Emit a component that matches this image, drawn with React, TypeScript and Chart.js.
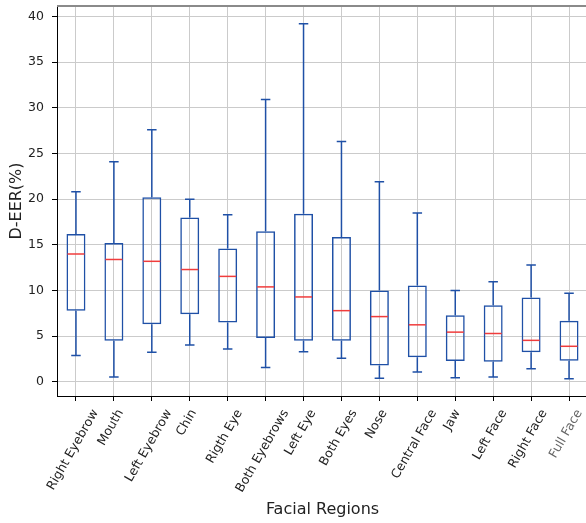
import React, { useEffect, useRef } from 'react';
import { Chart, registerables } from 'chart.js';

Chart.register(...registerables);

const categories = [
  'Right Eyebrow', 'Mouth', 'Left Eyebrow', 'Chin', 'Rigth Eye', 'Both Eyebrows', 'Left Eye',
  'Both Eyes', 'Nose', 'Central Face', 'Jaw', 'Left Face', 'Right Face', 'Full Face',
];
const whiskerLow = [2.9, 0.55, 3.25, 4.05, 3.6, 1.57, 3.3, 2.6, 0.4, 1.1, 0.47, 0.55, 1.45, 0.36];
const q1 = [7.8, 4.5, 6.3, 7.4, 6.5, 4.8, 4.5, 4.5, 1.8, 2.7, 2.3, 2.2, 3.25, 2.33];
const median = [14.0, 13.4, 13.2, 12.3, 11.55, 10.4, 9.3, 7.8, 7.15, 6.25, 5.45, 5.3, 4.55, 3.9];
const q3 = [16.2, 15.2, 20.2, 18.0, 14.6, 16.5, 18.4, 15.85, 10.0, 10.55, 7.3, 8.4, 9.25, 6.7];
const whiskerHigh = [20.8, 24.1, 27.6, 20.0, 18.3, 30.9, 39.2, 26.3, 21.9, 18.5, 10.0, 10.95, 12.8, 9.7];
const yTicks = [0, 5, 10, 15, 20, 25, 30, 35, 40];
const yMin = -1.54;
const yMax = 41.14;

const BLUE = '#1f50a6';
const RED = '#f03c3c';
const FONT = '"DejaVu Sans", sans-serif';

const boxPlugin = {
  id: 'boxParts',
  afterDatasetsDraw(chart: any) {
    const { ctx, scales } = chart;
    const xs = scales.x;
    const ys = scales.y;
    const step = xs.getPixelForValue(1) - xs.getPixelForValue(0);
    const capHalf = step * 0.25 / 2;
    const boxHalf = step * 0.5 / 2;
    ctx.save();
    ctx.lineWidth = 1.5;
    categories.forEach((_, i) => {
      const x = xs.getPixelForValue(i);
      const yLo = ys.getPixelForValue(whiskerLow[i]);
      const yQ1 = ys.getPixelForValue(q1[i]);
      const yQ3 = ys.getPixelForValue(q3[i]);
      const yHi = ys.getPixelForValue(whiskerHigh[i]);
      const yMed = ys.getPixelForValue(median[i]);
      ctx.strokeStyle = BLUE;
      ctx.beginPath();
      ctx.moveTo(x, yQ1);
      ctx.lineTo(x, yLo);
      ctx.moveTo(x, yQ3);
      ctx.lineTo(x, yHi);
      ctx.moveTo(x - capHalf, yLo);
      ctx.lineTo(x + capHalf, yLo);
      ctx.moveTo(x - capHalf, yHi);
      ctx.lineTo(x + capHalf, yHi);
      ctx.stroke();
      ctx.strokeStyle = RED;
      ctx.beginPath();
      ctx.moveTo(x - boxHalf + 1, yMed);
      ctx.lineTo(x + boxHalf - 1, yMed);
      ctx.stroke();
    });
    // top spine
    const ca = chart.chartArea;
    ctx.strokeStyle = '#8a8a8a';
    ctx.lineWidth = 2;
    ctx.beginPath();
    ctx.moveTo(ca.left, ca.top);
    ctx.lineTo(ca.right + 10, ca.top);
    ctx.stroke();
    ctx.restore();
  },
  afterDraw(chart: any) {
    const { ctx } = chart;
    const xs = chart.scales.x;
    const ang = Math.PI / 3;
    const h = 14.5;
    const top = chart.chartArea.bottom + 11;
    ctx.save();
    ctx.font = '12.5px ' + FONT;
    categories.forEach((lab, i) => {
      const L = ctx.measureText(lab).width;
      const H = L * Math.sin(ang) + h * Math.cos(ang);
      const x = xs.getPixelForValue(i) - 3;
      ctx.save();
      ctx.translate(x, top + H / 2);
      ctx.rotate(-ang);
      ctx.textAlign = 'center';
      ctx.textBaseline = 'middle';
      ctx.fillStyle = i === categories.length - 1 ? '#666666' : '#222222';
      ctx.fillText(lab, 0, 0);
      ctx.restore();
    });
    ctx.restore();
  },
};

export default function App() {
  const ref = useRef<HTMLCanvasElement | null>(null);
  useEffect(() => {
    if (!ref.current) return;
    const chart = new Chart(ref.current, {
      type: 'bar',
      data: {
        labels: categories,
        datasets: [
          {
            data: categories.map((_, i) => [q1[i], q3[i]]) as any,
            backgroundColor: 'rgba(0,0,0,0)',
            borderColor: BLUE,
            borderWidth: 1.5,
            borderSkipped: false,
            barPercentage: 0.5,
            categoryPercentage: 1,
          },
        ],
      },
      options: {
        animation: false,
        responsive: true,
        maintainAspectRatio: false,
        layout: { padding: { top: 6, right: 4, left: 0, bottom: 0 } },
        plugins: { legend: { display: false }, tooltip: { enabled: false } },
        scales: {
          x: {
            offset: true,
            grid: { offset: false, color: '#cbcbcb', lineWidth: 1, tickLength: 5, tickColor: '#000', drawTicks: true },
            border: { color: '#000', width: 1 },
            ticks: { display: false },
            title: {
              display: true,
              text: 'Facial Regions',
              font: { family: FONT, size: 16 },
              color: '#222',
              padding: { top: 0, bottom: 4 },
            },
            afterFit: (s: any) => {
              s.height = 127;
              s.paddingLeft = 0;
              s.paddingRight = 0;
            },
          },
          y: {
            min: yMin,
            max: yMax,
            grid: { color: '#cbcbcb', lineWidth: 1, tickLength: 5, tickColor: '#000' },
            border: { color: '#000', width: 1 },
            afterBuildTicks: (s: any) => {
              s.ticks = yTicks.map((v) => ({ value: v }));
            },
            ticks: {
              padding: 8,
              color: '#222',
              font: { family: FONT, size: 12.5 },
              callback: (v: any) => String(v),
            },
            title: {
              display: true,
              text: 'D-EER(%)',
              font: { family: FONT, size: 16 },
              color: '#222',
              padding: { top: 7, bottom: 0 },
            },
            afterFit: (s: any) => {
              s.width = 57;
              s.paddingTop = 0;
              s.paddingBottom = 0;
            },
          },
        },
      },
      plugins: [boxPlugin],
    });
    return () => chart.destroy();
  }, []);
  return (
    <div style={{ position: 'fixed', left: 0, top: 0, width: 586, height: 523, overflow: 'hidden', background: '#fff' }}>
      <div style={{ width: 592, height: 523 }}>
        <canvas ref={ref} style={{ display: 'block' }} />
      </div>
    </div>
  );
}
